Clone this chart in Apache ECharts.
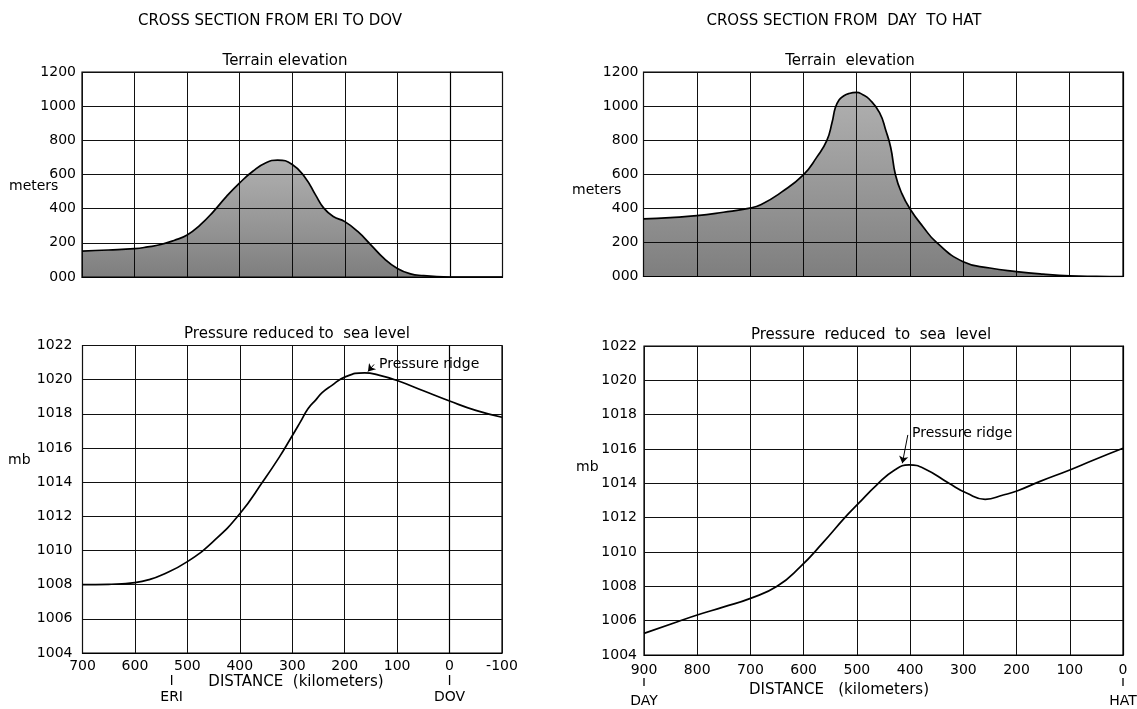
<!DOCTYPE html>
<html><head><meta charset="utf-8">
<script src="https://cdn.jsdelivr.net/npm/echarts@6/dist/echarts.min.js"></script>
<style>html,body{margin:0;padding:0;background:#fff}#c{width:1137px;height:709px}</style>
</head><body><div id="c"></div>
<script>
// ---- DATA ----
const eriDovTerrainKm = [700, 650, 600, 575, 550, 525, 500, 475, 450, 425, 400, 375, 350, 328, 300, 275, 256, 240, 222, 200, 175, 150, 125, 100, 75, 50, 25, 0, -50, -100];
const eriDovTerrainM  = [152, 158, 166, 176, 190, 214, 246, 305, 383, 472, 551, 619, 669, 684, 659, 580, 482, 403, 354, 324, 265, 187, 108, 50, 18, 8, 2, 0, 0, 0];

const dayHatTerrainKm = [900, 850, 800, 750, 703, 679, 641, 600, 575, 556, 546, 540, 533, 525, 515, 500, 489, 476, 457, 445, 436, 427, 415, 400, 375, 350, 300, 250, 200, 150, 100, 50, 0];
const dayHatTerrainM  = [338, 346, 357, 377, 400, 423, 495, 596, 699, 797, 905, 990, 1036, 1058, 1073, 1080, 1068, 1040, 962, 855, 757, 596, 486, 398, 291, 200, 87, 50, 29, 14, 4, 1, 0];

const eriDovPressureKm = [700, 650, 625, 600, 575, 550, 500, 450, 400, 355, 325, 304, 285, 270, 255, 243, 225, 200, 162, 135, 100, 50, 0, -50, -100];
const eriDovPressureMb = [1008, 1008.02, 1008.05, 1008.12, 1008.28, 1008.55, 1009.35, 1010.55, 1012.15, 1014.08, 1015.45, 1016.51, 1017.5, 1018.3, 1018.82, 1019.24, 1019.65, 1020.15, 1020.4, 1020.27, 1019.95, 1019.35, 1018.75, 1018.2, 1017.8];

const dayHatPressureKm = [900, 837, 800, 750, 700, 650, 606, 565, 521, 497, 463, 429, 402, 374, 327, 293, 259, 225, 198, 157, 100, 55, 0];
const dayHatPressureMb = [1005.26, 1005.94, 1006.33, 1006.8, 1007.3, 1008.0, 1009.15, 1010.5, 1012.06, 1012.83, 1013.9, 1014.78, 1015.07, 1014.87, 1014.0, 1013.42, 1013.07, 1013.32, 1013.57, 1014.1, 1014.78, 1015.36, 1016.04];

const elevationTicks = [0, 200, 400, 600, 800, 1000, 1200];
const pressureTicks = [1004, 1006, 1008, 1010, 1012, 1014, 1016, 1018, 1020, 1022];

const eriDovStations = [{name: 'ERI', km: 530}, {name: 'DOV', km: 0}];
const dayHatStations = [{name: 'DAY', km: 900}, {name: 'HAT', km: 0}];

const eriDovRidge = {text: 'Pressure ridge', fromKm: 144, fromMb: 1020.89, toKm: 155.6, toMb: 1020.48, labelKm: 136.5, labelMb: 1020.89};
const dayHatRidge = {text: 'Pressure ridge', fromKm: 404.3, fromMb: 1016.82, toKm: 414.6, toMb: 1015.17, labelKm: 398.3, labelMb: 1016.92};

// ---- CHART ----
const FONT = 'DejaVu Sans';
const zip = (a, b) => a.map((v, i) => [v, b[i]]);
const chart = echarts.init(document.getElementById('c'));

const grids = [
  {left: 82, top: 72, width: 420.5, height: 205},
  {left: 643.5, top: 72, width: 479.5, height: 204.5},
  {left: 82.5, top: 345.5, width: 419.5, height: 307.5},
  {left: 644, top: 346, width: 479, height: 309}
].map(g => Object.assign({show: true, borderColor: '#000', borderWidth: 1.2, backgroundColor: 'transparent'}, g));

function xAx(i, min, max, showLabels, margin) {
  return {
    type: 'value', gridIndex: i, min, max, interval: 100, inverse: true,
    axisLine: {show: true, lineStyle: {color: '#000', width: 1.2}},
    axisTick: {show: false},
    splitLine: {show: true, lineStyle: {color: '#111', width: 1}},
    axisLabel: {show: showLabels, color: '#000', fontFamily: FONT, fontSize: 14, margin: margin || 8,
      formatter: v => String(v)}
  };
}
function yAx(i, ticks, margin, zeroFmt) {
  return {
    type: 'value', gridIndex: i, min: ticks[0], max: ticks[ticks.length - 1],
    interval: ticks[1] - ticks[0],
    axisLine: {show: true, lineStyle: {color: '#000', width: 1.2}},
    axisTick: {show: false},
    splitLine: {show: true, lineStyle: {color: '#111', width: 1}},
    axisLabel: {color: '#000', fontFamily: FONT, fontSize: 14, margin,
      formatter: v => (zeroFmt && v === 0) ? '000' : String(v)}
  };
}

const terrainArea = {
  color: {type: 'linear', x: 0, y: 0, x2: 0, y2: 1, colorStops: [
    {offset: 0, color: 'rgba(30,30,30,0.5)'},
    {offset: 1, color: 'rgba(0,0,0,0.72)'}
  ]}
};

function ridgeMarks(r) {
  return {
    markLine: {
      silent: true, symbol: ['none', 'arrow'], symbolSize: 7,
      lineStyle: {color: '#000', width: 1, type: 'solid'},
      label: {show: false},
      data: [[{coord: [r.fromKm, r.fromMb]}, {coord: [r.toKm, r.toMb]}]]
    },
    markPoint: {
      silent: true, symbol: 'circle', symbolSize: 0,
      label: {show: true, position: 'right', distance: 1, formatter: r.text, color: '#000', fontFamily: FONT, fontSize: 14},
      data: [{coord: [r.labelKm, r.labelMb]}]
    }
  };
}

const lineBase = {type: 'line', showSymbol: false, smooth: 0.5, lineStyle: {color: '#000', width: 1.7}, z: 5};

const series = [
  Object.assign({}, lineBase, {name: 'ERI-DOV terrain', xAxisIndex: 0, yAxisIndex: 0, data: zip(eriDovTerrainKm, eriDovTerrainM), areaStyle: terrainArea}),
  Object.assign({}, lineBase, {name: 'DAY-HAT terrain', xAxisIndex: 1, yAxisIndex: 1, data: zip(dayHatTerrainKm, dayHatTerrainM), areaStyle: terrainArea}),
  Object.assign({}, lineBase, {name: 'ERI-DOV pressure', xAxisIndex: 2, yAxisIndex: 2, data: zip(eriDovPressureKm, eriDovPressureMb)}, ridgeMarks(eriDovRidge)),
  Object.assign({}, lineBase, {name: 'DAY-HAT pressure', xAxisIndex: 3, yAxisIndex: 3, data: zip(dayHatPressureKm, dayHatPressureMb)}, ridgeMarks(dayHatRidge))
];

function txt(text, x, y, size, align) {
  return {type: 'text', x, y, style: {text, fill: '#000', font: size + 'px "' + FONT + '"', textAlign: align || 'center', textVerticalAlign: 'middle'}};
}

const staticText = [
  txt('CROSS SECTION FROM ERI TO DOV', 270, 21, 15),
  txt('CROSS SECTION FROM  DAY  TO HAT', 844, 21, 15),
  txt('Terrain elevation', 285, 61, 15),
  txt('Terrain  elevation', 850, 61, 15),
  txt('Pressure reduced to  sea level', 297, 334, 15),
  txt('Pressure  reduced  to  sea  level', 871, 335, 15),
  txt('meters', 9, 186, 14, 'left'),
  txt('meters', 572, 190, 14, 'left'),
  txt('mb', 8, 460, 14, 'left'),
  txt('mb', 576, 467, 14, 'left'),
  txt('DISTANCE  (kilometers)', 296, 682, 15),
  txt('DISTANCE   (kilometers)', 839, 690, 15)
];

chart.setOption({
  animation: false,
  backgroundColor: '#fff',
  grid: grids,
  xAxis: [xAx(0, -100, 700, false), xAx(1, 0, 900, false), xAx(2, -100, 700, true, 6), xAx(3, 0, 900, true, 8)],
  yAxis: [yAx(0, elevationTicks, 6, true), yAx(1, elevationTicks, 5, true), yAx(2, pressureTicks, 10, false), yAx(3, pressureTicks, 7, false)],
  series,
  graphic: staticText
});

// station markers placed through the x scales
function stationGraphics(axisIndex, list, tickTop, tickBottom, nameY) {
  const out = [];
  list.forEach(s => {
    const x = chart.convertToPixel({xAxisIndex: axisIndex}, s.km);
    out.push({type: 'line', shape: {x1: x, y1: tickTop, x2: x, y2: tickBottom}, style: {stroke: '#000', lineWidth: 1.3}});
    out.push(txt(s.name, x, nameY, 14));
  });
  return out;
}
chart.setOption({
  graphic: staticText.concat(
    stationGraphics(2, eriDovStations, 675, 685, 697),
    stationGraphics(3, dayHatStations, 678, 686, 701)
  )
});
</script>
</body></html>
